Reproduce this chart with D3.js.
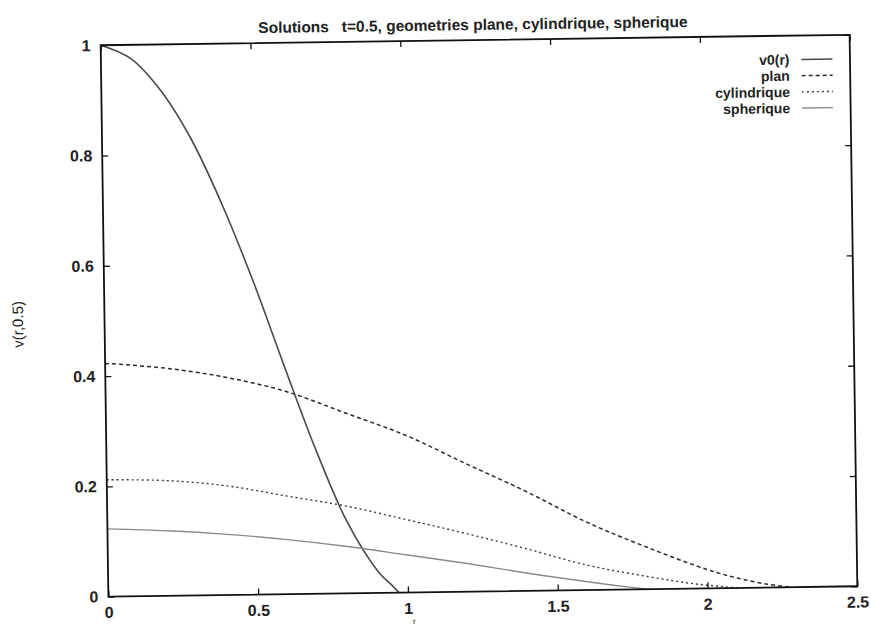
<!DOCTYPE html>
<html>
<head>
<meta charset="utf-8">
<script src="https://cdn.jsdelivr.net/npm/d3@7"></script>
<style>
  html, body { margin: 0; padding: 0; background: #fff; }
  svg { display: block; }
  text { font-family: "Liberation Sans", Arial, Helvetica, sans-serif; fill: #222; }
</style>
</head>
<body>
<svg id="chart" width="871" height="626"></svg>
<script>
// ---- data ----
const titleText = "Solutions   t=0.5, geometries plane, cylindrique, spherique";
const xTicks = [0, 0.5, 1, 1.5, 2, 2.5];
const xTickLabels = ["0", "0.5", "1", "1.5", "2", "2.5"];
const yTicks = [0, 0.2, 0.4, 0.6, 0.8, 1];
const yTickLabels = ["0", "0.2", "0.4", "0.6", "0.8", "1"];
const seriesNames = ["v0(r)", "plan", "cylindrique", "spherique"];

const rV0   = [0, 0.1, 0.2, 0.3, 0.4, 0.5, 0.6, 0.7, 0.8, 0.9, 0.95, 0.97];
const vV0   = [1, 0.975, 0.915, 0.825, 0.705, 0.565, 0.41, 0.26, 0.13, 0.04, 0.012, 0];

const rPlan = [0, 0.2, 0.4, 0.6, 0.8, 1.0, 1.2, 1.4, 1.6, 1.8, 2.0, 2.1, 2.2, 2.28];
const vPlan = [0.423, 0.413, 0.395, 0.368, 0.327, 0.285, 0.232, 0.18, 0.123, 0.076, 0.034, 0.018, 0.006, 0];

const rCyl  = [0, 0.2, 0.4, 0.6, 0.8, 1.0, 1.2, 1.4, 1.6, 1.8, 1.95, 2.1];
const vCyl  = [0.212, 0.209, 0.198, 0.178, 0.158, 0.132, 0.105, 0.076, 0.045, 0.023, 0.009, 0];

const rSph  = [0, 0.2, 0.4, 0.6, 0.8, 1.0, 1.2, 1.4, 1.6, 1.7, 1.8];
const vSph  = [0.123, 0.118, 0.11, 0.099, 0.085, 0.068, 0.051, 0.032, 0.015, 0.007, 0];

// ---- layout ----
const svg = d3.select("#chart");
const pL = 104.5, pR = 853.5, pT = 40, pB = 591.5;

const x = d3.scaleLinear().domain([0, 2.5]).range([pL, pR]);
const y = d3.scaleLinear().domain([0, 1]).range([pB, pT]);

// whole plot slightly tilted like the scanned reference
const g = svg.append("g").attr("transform", "rotate(-0.8, 479, 316)");

const series = [
  { name: seriesNames[0], r: rV0,  v: vV0,  color: "#4a4a4a", width: 1.6, dash: null },
  { name: seriesNames[1], r: rPlan, v: vPlan, color: "#2a2a2a", width: 1.5, dash: "4,3" },
  { name: seriesNames[2], r: rCyl, v: vCyl, color: "#3a3a3a", width: 1.4, dash: "2,3" },
  { name: seriesNames[3], r: rSph, v: vSph, color: "#8a8a8a", width: 1.4, dash: null }
];

const line = d3.line()
  .x(d => x(d[0]))
  .y(d => y(Math.max(0, d[1])))
  .curve(d3.curveCatmullRom.alpha(0.5));

series.forEach(s => {
  const pts = s.r.map((r, i) => [r, s.v[i]]);
  g.append("path")
    .attr("d", line(pts))
    .attr("fill", "none")
    .attr("stroke", s.color)
    .attr("stroke-width", s.width)
    .attr("stroke-dasharray", s.dash);
});

// axes (gnuplot style: ticks inside on all four sides)
const tickLen = 6;
const axB = d3.axisBottom(x).tickValues(xTicks).tickFormat((d, i) => xTickLabels[i]).tickSizeInner(-tickLen).tickSizeOuter(0).tickPadding(10);
const axT = d3.axisTop(x).tickValues(xTicks).tickFormat("").tickSizeInner(-tickLen).tickSizeOuter(0);
const axL = d3.axisLeft(y).tickValues(yTicks).tickFormat((d, i) => yTickLabels[i]).tickSizeInner(-tickLen).tickSizeOuter(0).tickPadding(10);
const axR = d3.axisRight(y).tickValues(yTicks).tickFormat("").tickSizeInner(-tickLen).tickSizeOuter(0);

function styleAxis(sel) {
  sel.select(".domain").remove();
  sel.selectAll(".tick line").attr("stroke", "#111").attr("stroke-width", 1.3);
  sel.selectAll(".tick text").attr("font-size", 16).attr("font-weight", "bold").attr("fill", "#2a2a2a")
     .attr("font-family", "\"Liberation Sans\", Arial, sans-serif");
}
g.append("g").attr("transform", `translate(0,${pB})`).call(axB).call(styleAxis);
g.append("g").attr("transform", `translate(0,${pT})`).call(axT).call(styleAxis);
g.append("g").attr("transform", `translate(${pL},0)`).call(axL).call(styleAxis);
g.append("g").attr("transform", `translate(${pR},0)`).call(axR).call(styleAxis);

// frame
g.append("rect")
  .attr("x", pL).attr("y", pT)
  .attr("width", pR - pL).attr("height", pB - pT)
  .attr("fill", "none").attr("stroke", "#111").attr("stroke-width", 1.8);

// title
g.append("text")
  .attr("x", 477).attr("y", 30)
  .attr("text-anchor", "middle")
  .attr("font-size", 15.5)
  .attr("font-weight", "bold")
  .style("white-space", "pre")
  .text(titleText);

// y-axis label
g.append("text")
  .attr("transform", "translate(23,318) rotate(-90)")
  .attr("text-anchor", "middle")
  .attr("font-size", 15)
  .attr("fill", "#333")
  .text("v(r,0.5)");

// x-axis label (faint in reference)
g.append("text")
  .attr("x", 410).attr("y", 623)
  .attr("text-anchor", "middle")
  .attr("font-size", 8)
  .attr("fill", "#999")
  .text("r");

// legend
const legX = 793, legY0 = 64, legDy = 16.2;
series.forEach((s, i) => {
  const yy = legY0 + i * legDy;
  g.append("text")
    .attr("x", legX).attr("y", yy)
    .attr("dy", "0.35em")
    .attr("text-anchor", "end")
    .attr("font-size", 14)
    .attr("font-weight", "bold")
    .text(s.name);
  g.append("line")
    .attr("x1", legX + 12).attr("x2", legX + 43)
    .attr("y1", yy).attr("y2", yy)
    .attr("stroke", s.color)
    .attr("stroke-width", s.width)
    .attr("stroke-dasharray", s.dash);
});
</script>
</body>
</html>
